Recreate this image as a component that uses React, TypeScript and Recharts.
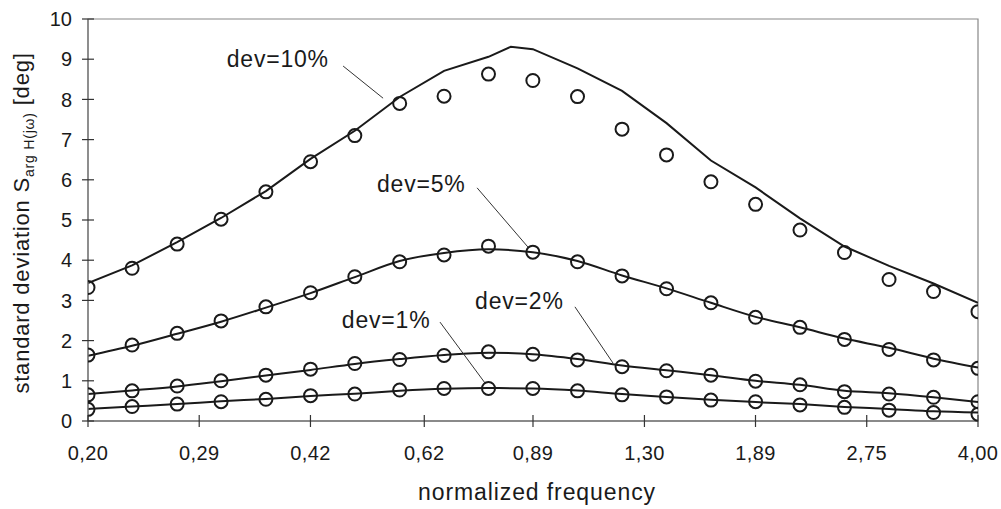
import React from "react";
import {
  ComposedChart,
  Line,
  XAxis,
  YAxis,
  ReferenceLine,
  ReferenceDot,
  ReferenceArea,
} from "recharts";

// normalized frequency grid (log spaced, 0.20 .. 4.00)
const freq = [
  0.2, 0.232, 0.27, 0.313, 0.364, 0.423, 0.491, 0.571, 0.663, 0.77, 0.894,
  1.039, 1.207, 1.402, 1.628, 1.892, 2.197, 2.552, 2.965, 3.444, 4.0,
];

// measured points (circles)
const circles1 = [
  0.29, 0.36, 0.42, 0.48, 0.54, 0.63, 0.67, 0.77, 0.81, 0.81, 0.81, 0.75,
  0.65, 0.6, 0.52, 0.48, 0.4, 0.34, 0.27, 0.21, 0.17,
];
const circles2 = [
  0.65, 0.75, 0.87, 1.0, 1.14, 1.29, 1.43, 1.53, 1.63, 1.72, 1.66, 1.52,
  1.35, 1.25, 1.14, 0.99, 0.9, 0.73, 0.67, 0.59, 0.48,
];
const circles5 = [
  1.64, 1.89, 2.18, 2.49, 2.84, 3.19, 3.59, 3.96, 4.13, 4.35, 4.2, 3.96,
  3.61, 3.29, 2.94, 2.58, 2.33, 2.03, 1.78, 1.52, 1.31,
];
const circles10 = [
  3.32, 3.8, 4.4, 5.02, 5.7, 6.45, 7.1, 7.9, 8.08, 8.63, 8.47, 8.07, 7.26,
  6.62, 5.95, 5.39, 4.75, 4.19, 3.52, 3.22, 2.72,
];

// computed curves (lines)
const line1 = [
  0.3, 0.36, 0.42, 0.49, 0.55, 0.62, 0.68, 0.75, 0.8, 0.82, 0.81, 0.76,
  0.67, 0.6, 0.53, 0.47, 0.42, 0.35, 0.3, 0.24, 0.21,
];
const line2 = [
  0.67, 0.76, 0.86, 0.99, 1.13, 1.27, 1.42, 1.54, 1.64, 1.7, 1.66, 1.54,
  1.38, 1.26, 1.14, 1.0, 0.9, 0.75, 0.69, 0.59, 0.47,
];
const line5 = [
  1.62, 1.87, 2.17, 2.47, 2.82, 3.18, 3.58, 3.98, 4.18, 4.27, 4.2, 3.98,
  3.62, 3.3, 2.94, 2.59, 2.33, 2.05, 1.82, 1.55, 1.33,
];
const line10Freq = [
  0.2, 0.232, 0.27, 0.313, 0.364, 0.423, 0.491, 0.571, 0.663, 0.77, 0.83,
  0.894, 1.039, 1.207, 1.402, 1.628, 1.892, 2.197, 2.552, 2.965, 3.444, 4.0,
];
const line10 = [
  3.43, 3.87, 4.45, 5.05, 5.72, 6.52, 7.22, 8.06, 8.71, 9.06, 9.31, 9.25,
  8.77, 8.21, 7.41, 6.48, 5.81, 5.04, 4.34, 3.86, 3.42, 2.94,
];

const xTicks = [0.2, 0.2908, 0.4229, 0.6203, 0.8944, 1.3015, 1.8915, 2.7504, 4.0];
const yTicks = [0, 1, 2, 3, 4, 5, 6, 7, 8, 9, 10];

// annotation labels with their leader lines (data coordinates)
const annotations = [
  { text: "dev=10%", at: [0.319, 8.81], from: [0.472, 8.83], to: [0.54, 8.03] },
  { text: "dev=5%", at: [0.529, 5.7], from: [0.741, 5.8], to: [0.879, 4.33] },
  { text: "dev=2%", at: [0.736, 2.79], from: [1.03, 2.84], to: [1.171, 1.44] },
  { text: "dev=1%", at: [0.47, 2.31], from: [0.654, 2.46], to: [0.761, 0.945] },
];

const FONT = "'Liberation Sans', Arial, sans-serif";
const INK = "#1a1a1a";

const measured = freq.map((f, i) => ({
  f,
  c1: circles1[i],
  c2: circles2[i],
  c5: circles5[i],
  c10: circles10[i],
}));
const curves = freq.map((f, i) => ({ f, l1: line1[i], l2: line2[i], l5: line5[i] }));
const curve10 = line10Freq.map((f, i) => ({ f, l10: line10[i] }));

const fmt = (v: number) => v.toFixed(2).replace(".", ",");

const XTick = (props: any) => {
  const { x, y, payload } = props;
  return (
    <g>
      <line x1={x} x2={x} y1={y - 6} y2={y + 6} stroke="#333" strokeWidth={1.2} />
      <text x={x} y={y + 39} textAnchor="middle" fontSize={20} letterSpacing={0.4} fontFamily={FONT} fill={INK}>
        {fmt(payload.value)}
      </text>
    </g>
  );
};

const YTick = (props: any) => {
  const { x, y, payload } = props;
  return (
    <g>
      <line x1={x - 6} x2={x + 6} y1={y} y2={y} stroke="#333" strokeWidth={1.2} />
      <text x={x - 16} y={y} dy="0.36em" textAnchor="end" fontSize={20} fontFamily={FONT} fill={INK}>
        {payload.value}
      </text>
    </g>
  );
};

const dotStyle = { r: 6.5, fill: "none", stroke: INK, strokeWidth: 2 };

export default function App() {
  return (
    <div style={{ position: "absolute", left: 0, top: 0, background: "#fff" }}>
      <ComposedChart width={1001} height={509} margin={{ top: 19, right: 23, bottom: 0, left: 0 }}>
        <XAxis
          dataKey="f"
          type="number"
          scale="log"
          domain={[0.2, 4]}
          allowDataOverflow
          ticks={xTicks}
          tick={<XTick />}
          tickLine={false}
          tickSize={0}
          tickMargin={0}
          height={88}
          axisLine={{ stroke: "#777", strokeWidth: 1.3 }}
          label={{
            content: (p: any) => (
              <text
                x={p.viewBox.x + p.viewBox.width / 2 + 4}
                y={500}
                textAnchor="middle"
                fontSize={23}
                letterSpacing={0.9}
                fontFamily={FONT}
                fill={INK}
              >
                normalized frequency
              </text>
            ),
          }}
        />
        <YAxis
          type="number"
          domain={[0, 10]}
          ticks={yTicks}
          tick={<YTick />}
          tickLine={false}
          tickSize={0}
          tickMargin={0}
          width={88}
          axisLine={{ stroke: "#777", strokeWidth: 1.3 }}
          label={{
            content: (p: any) => (
              <text
                transform={`translate(29, ${p.viewBox.y + p.viewBox.height / 2 + 3}) rotate(-90)`}
                textAnchor="middle"
                fontSize={22}
                letterSpacing={0.8}
                fontFamily={FONT}
                fill={INK}
              >
                standard deviation S
                <tspan fontSize={14} dy={5}>
                  arg H(jω)
                </tspan>
                <tspan dy={-5}>{" [deg]"}</tspan>
              </text>
            ),
          }}
        />
        <ReferenceArea x1={0.2} x2={4} y1={0} y2={10} fill="none" stroke="#888" strokeWidth={1.2} />

        <Line data={curves} dataKey="l1" type="monotone" stroke={INK} strokeWidth={2} dot={false} activeDot={false} isAnimationActive={false} />
        <Line data={curves} dataKey="l2" type="monotone" stroke={INK} strokeWidth={2} dot={false} activeDot={false} isAnimationActive={false} />
        <Line data={curves} dataKey="l5" type="monotone" stroke={INK} strokeWidth={2} dot={false} activeDot={false} isAnimationActive={false} />
        <Line data={curve10} dataKey="l10" type="linear" stroke={INK} strokeWidth={2} dot={false} activeDot={false} isAnimationActive={false} />

        <Line data={measured} dataKey="c1" stroke="none" dot={dotStyle} activeDot={false} isAnimationActive={false} />
        <Line data={measured} dataKey="c2" stroke="none" dot={dotStyle} activeDot={false} isAnimationActive={false} />
        <Line data={measured} dataKey="c5" stroke="none" dot={dotStyle} activeDot={false} isAnimationActive={false} />
        <Line data={measured} dataKey="c10" stroke="none" dot={dotStyle} activeDot={false} isAnimationActive={false} />

        {annotations.map((a) => (
          <ReferenceLine
            key={"l" + a.text}
            segment={[
              { x: a.from[0], y: a.from[1] },
              { x: a.to[0], y: a.to[1] },
            ]}
            stroke="#333"
            strokeWidth={1}
          />
        ))}
        {annotations.map((a) => (
          <ReferenceDot
            key={"t" + a.text}
            x={a.at[0]}
            y={a.at[1]}
            r={0}
            shape={(p: any) => (
              <text x={p.cx} y={p.cy} fontSize={23} letterSpacing={0.8} fontFamily={FONT} fill={INK}>
                {a.text}
              </text>
            )}
          />
        ))}
      </ComposedChart>
    </div>
  );
}
